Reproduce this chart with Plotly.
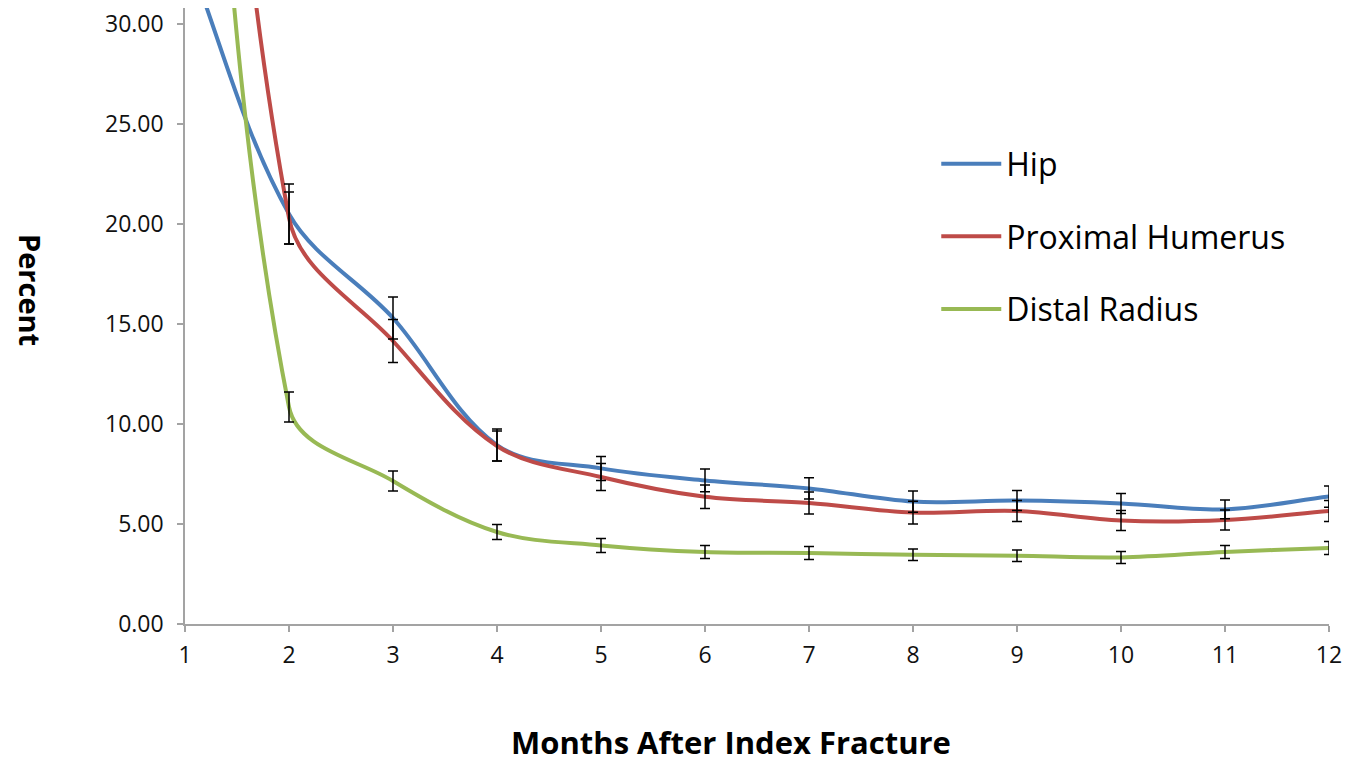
import math
import plotly.graph_objects as go

months = [1, 2, 3, 4, 5, 6, 7, 8, 9, 10, 11, 12]

hip = [33.8, 20.5, 15.3, 8.95, 7.78, 7.18, 6.78, 6.12, 6.17, 6.03, 5.73, 6.37]
hip_err = [2.0, 1.5, 1.05, 0.8, 0.6, 0.57, 0.53, 0.53, 0.5, 0.5, 0.47, 0.53]

humerus = [70.0, 20.3, 14.15, 8.9, 7.35, 6.36, 6.05, 5.57, 5.65, 5.17, 5.2, 5.65]
humerus_err = [2.5, 1.3, 1.07, 0.75, 0.68, 0.59, 0.55, 0.57, 0.53, 0.5, 0.5, 0.53]

radius = [60.0, 10.85, 7.15, 4.6, 3.93, 3.6, 3.55, 3.46, 3.41, 3.33, 3.6, 3.8]
radius_err = [2.5, 0.75, 0.5, 0.38, 0.35, 0.32, 0.32, 0.29, 0.29, 0.3, 0.33, 0.33]

names = ["Hip", "Proximal Humerus", "Distal Radius"]
values = [hip, humerus, radius]
errors = [hip_err, humerus_err, radius_err]
colors = ["#4A7EBB", "#BE4B48", "#98B954"]

# figure geometry (page body adds an 8px offset)
W, H = 1363, 761
OFF = 8
ML, MR, MT, MB = 177, 42, 0, 145
Y_MAX = 30.8
plot_w = W - ML - MR
plot_h = H - MT - MB
sx = plot_w / (months[-1] - months[0])   # px per month
sy = plot_h / Y_MAX                       # px per percent


def smooth_path(xs, ys):
    """Excel-like smoothed line as cubic Bezier segments (data coordinates)."""
    P = [(x * sx, y * sy) for x, y in zip(xs, ys)]
    n = len(P)
    dist = [math.hypot(P[i + 1][0] - P[i][0], P[i + 1][1] - P[i][1]) for i in range(n - 1)]
    back, fwd = [None] * n, [None] * n
    for i in range(1, n - 1):
        tx, ty = P[i + 1][0] - P[i - 1][0], P[i + 1][1] - P[i - 1][1]
        tl = math.hypot(tx, ty) or 1.0
        ux, uy = tx / tl, ty / tl
        back[i] = (P[i][0] - ux * dist[i - 1] / 3, P[i][1] - uy * dist[i - 1] / 3)
        fwd[i] = (P[i][0] + ux * dist[i] / 3, P[i][1] + uy * dist[i] / 3)
    fwd[0] = (P[0][0] + (P[1][0] - P[0][0]) / 3, P[0][1] + (P[1][1] - P[0][1]) / 3)
    back[n - 1] = (P[n - 1][0] - (P[n - 1][0] - P[n - 2][0]) / 3,
                   P[n - 1][1] - (P[n - 1][1] - P[n - 2][1]) / 3)

    def d(pt):
        return f"{pt[0] / sx:.5f},{pt[1] / sy:.5f}"

    path = "M" + d(P[0])
    for i in range(n - 1):
        path += " C" + d(fwd[i]) + " " + d(back[i + 1]) + " " + d(P[i + 1])
    return path


fig = go.Figure()

# error bars (data points)
for name, vals, errs, color in zip(names, values, errors, colors):
    fig.add_trace(go.Scatter(
        x=months, y=vals, name=name, mode="markers",
        marker=dict(size=1, color=color, opacity=0),
        error_y=dict(type="data", array=errs, visible=True, color="black",
                     thickness=1.5, width=5),
        showlegend=False, hoverinfo="x+y",
    ))

# legend entries
for name, color in zip(names, colors):
    fig.add_trace(go.Scatter(
        x=[None], y=[None], name=name, mode="lines",
        line=dict(color=color, width=4),
        legendgroup=name,
    ))

# smoothed lines
shapes = []
for vals, color in zip(values, colors):
    shapes.append(dict(
        type="path", xref="x", yref="y", path=smooth_path(months, vals),
        line=dict(color=color, width=4), layer="between",
    ))


def px_x(screen_x):
    return (screen_x - OFF - ML) / plot_w


def px_y(screen_y):
    return (plot_h - (screen_y - OFF - MT)) / plot_h


fig.update_layout(
    width=W, height=H,
    paper_bgcolor="white", plot_bgcolor="white",
    margin=dict(l=ML, r=MR, t=MT, b=MB, autoexpand=False),
    shapes=shapes,
    showlegend=True,
    legend=dict(
        x=0.6567, y=0.7915, xanchor="left", yanchor="top",
        font=dict(family="Open Sans", size=32, color="black"),
        bgcolor="rgba(0,0,0,0)", tracegroupgap=28, itemwidth=60,
    ),
    xaxis=dict(
        range=[1, 12], tickmode="array", tickvals=months,
        ticktext=[str(m) for m in months],
        showgrid=False, zeroline=False,
        showline=True, linecolor="#a3a3a3", linewidth=1.5,
        ticks="outside", ticklen=6, tickcolor="#a3a3a3", tickwidth=1.5,
        ticklabelstandoff=4, ticklabeloverflow="allow",
        tickfont=dict(family="Open Sans", size=23, color="#111"),
    ),
    yaxis=dict(
        range=[0, Y_MAX], tickmode="array", tickvals=[0, 5, 10, 15, 20, 25, 30],
        tickformat=".2f",
        showgrid=False, zeroline=False,
        showline=True, linecolor="#a3a3a3", linewidth=1.5,
        ticks="outside", ticklen=6, tickcolor="#a3a3a3", tickwidth=1.5,
        ticklabelstandoff=9, ticklabeloverflow="allow",
        tickfont=dict(family="Open Sans", size=23, color="#111"),
    ),
    annotations=[
        dict(
            text="<b>Percent</b>", textangle=90,
            x=px_x(31), y=px_y(290),
            xref="paper", yref="paper", xanchor="center", yanchor="middle",
            showarrow=False, borderpad=0,
            font=dict(family="Open Sans", size=29, color="black"),
        ),
        dict(
            text="<b>Months After Index Fracture</b>",
            x=px_x(731), y=px_y(742),
            xref="paper", yref="paper", xanchor="center", yanchor="middle",
            showarrow=False,
            font=dict(family="Open Sans", size=31, color="black"),
        ),
    ],
)

fig.write_html("out.html")
